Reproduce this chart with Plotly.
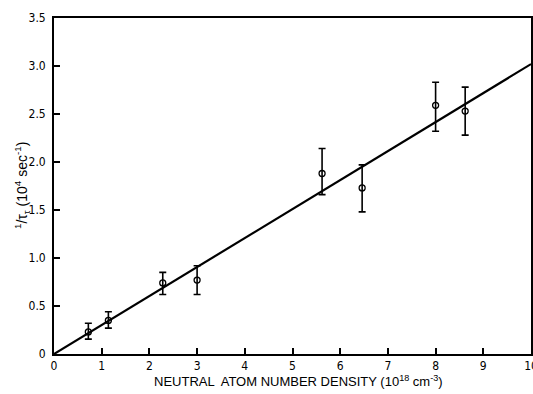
import plotly.graph_objects as go

density = [0.72, 1.14, 2.28, 3.0, 5.62, 6.46, 8.0, 8.62]
rate = [0.23, 0.35, 0.74, 0.77, 1.88, 1.73, 2.59, 2.53]
err_hi = [0.32, 0.44, 0.85, 0.92, 2.14, 1.97, 2.83, 2.78]
err_lo = [0.155, 0.27, 0.62, 0.62, 1.66, 1.48, 2.32, 2.28]
fit_x = [0, 10]
fit_y = [0, 3.02]
x_ticks = [0, 1, 2, 3, 4, 5, 6, 7, 8, 9, 10]
y_ticks = [0, 0.5, 1.0, 1.5, 2.0, 2.5, 3.0, 3.5]
y_tick_text = ["0", "0.5", "1.0", "1.5", "2.0", "2.5", "3.0", "3.5"]
x_title = "NEUTRAL  ATOM NUMBER DENSITY (10<sup>18</sup> cm<sup>-3</sup>)"
y_title = "<sup>1</sup>/τ<sub>τ</sub> (10<sup>4</sup> sec<sup>-1</sup>)"

plus = [h - r for h, r in zip(err_hi, rate)]
minus = [r - l for r, l in zip(rate, err_lo)]

font_fam = "Liberation Sans Narrow, DejaVu Sans Condensed, Arial Narrow, sans-serif"
title_fam = "Liberation Sans, Arial, sans-serif"

fig = go.Figure()
fig.add_trace(go.Scatter(x=fit_x, y=fit_y, mode="lines",
                         line=dict(color="black", width=2.2), hoverinfo="skip"))
fig.add_trace(go.Scatter(
    x=density, y=rate, mode="markers",
    marker=dict(symbol="circle-open", size=6, color="black", line=dict(width=1.3)),
    error_y=dict(type="data", symmetric=False, array=plus, arrayminus=minus,
                 color="black", thickness=1.6, width=3.5),
))

fig.update_layout(
    width=533, height=394,
    margin=dict(l=54, r=2, t=18, b=40),
    paper_bgcolor="white", plot_bgcolor="white",
    showlegend=False,
    font=dict(family=font_fam, color="black", size=11),
    xaxis=dict(range=[0, 10], tickvals=x_ticks, ticks="inside", ticklen=6,
               tickwidth=1.5, tickcolor="black", showline=True, linecolor="black",
               linewidth=1.8, mirror=True, showgrid=False, zeroline=False,
               automargin=False, ticklabeloverflow="allow",
               tickfont=dict(size=12, family=font_fam)),
    yaxis=dict(range=[0, 3.5], tickvals=y_ticks, ticktext=y_tick_text,
               ticks="inside", ticklen=6, tickwidth=1.5, tickcolor="black",
               showline=True, linecolor="black", linewidth=1.8, mirror=True,
               showgrid=False, zeroline=False, ticklabelstandoff=4,
               automargin=False, tickfont=dict(size=12, family=font_fam)),
    annotations=[
        dict(text=x_title, xref="paper", yref="paper", x=0.513, y=-0.08,
             xanchor="center", yanchor="middle", showarrow=False,
             font=dict(size=13, family=title_fam, color="black")),
        dict(text=y_title, xref="paper", yref="paper", x=-0.067, y=0.5,
             xanchor="center", yanchor="middle", showarrow=False, textangle=-90,
             font=dict(size=14, family=title_fam, color="black")),
    ],
)

fig.write_html("out.html", config={"displayModeBar": False},
               post_script="document.body.style.margin='0';document.body.style.overflow='hidden';")
